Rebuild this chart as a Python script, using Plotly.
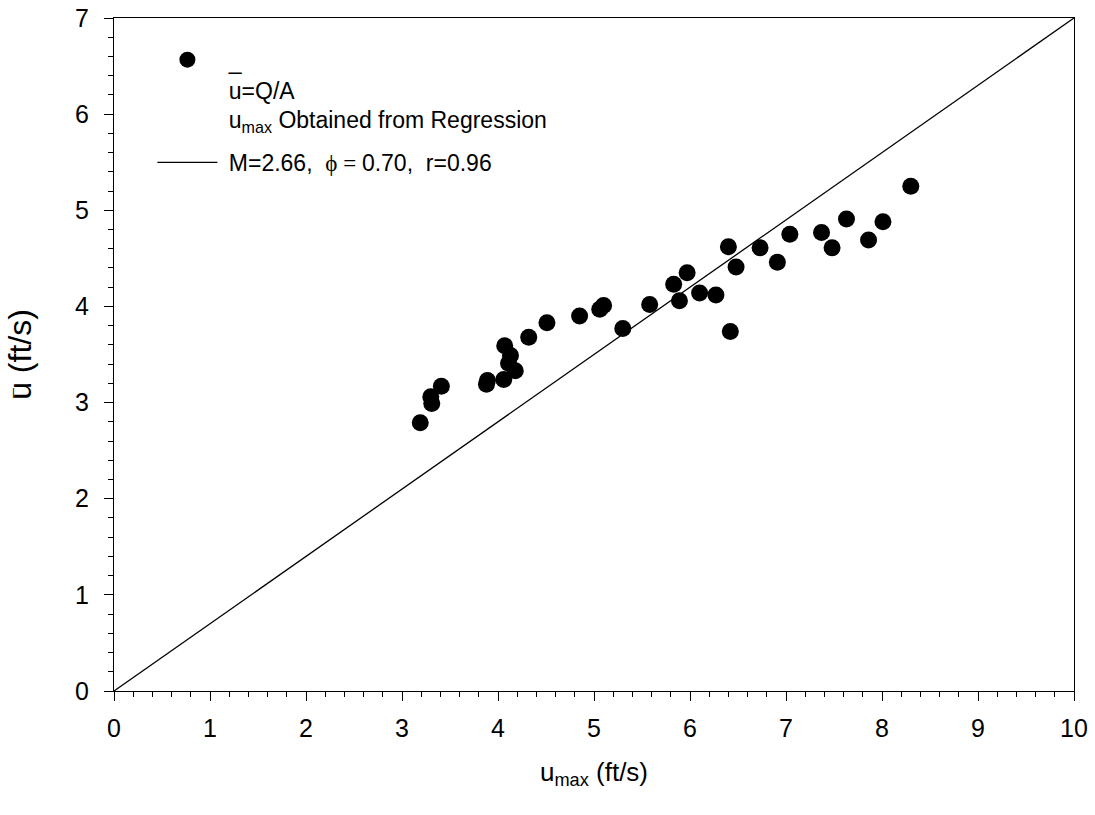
import plotly.graph_objects as go

# data
u_max = [3.19, 3.30, 3.31, 3.41, 3.88, 3.89, 4.06, 4.07, 4.13, 4.11, 4.18, 4.32, 4.51,
         4.85, 5.06, 5.10, 5.30, 5.58, 5.83, 5.89, 5.97, 6.10, 6.27, 6.40, 6.42, 6.48,
         6.73, 6.91, 7.04, 7.37, 7.48, 7.63, 7.86, 8.01, 8.30]
u_bar = [2.79, 3.06, 2.99, 3.17, 3.19, 3.23, 3.24, 3.59, 3.49, 3.41, 3.33, 3.68, 3.83,
         3.90, 3.97, 4.01, 3.77, 4.02, 4.23, 4.06, 4.35, 4.14, 4.12, 4.62, 3.74, 4.41,
         4.61, 4.46, 4.75, 4.77, 4.61, 4.91, 4.69, 4.88, 5.25]

line_x = [0, 10]
line_y = [0, 7]

x_ticks = list(range(0, 11))
y_ticks = list(range(0, 8))

FONT = "Liberation Sans, Arial, sans-serif"
TICK_SIZE = 25
LEG_SIZE = 23
TITLE_SIZE = 26
YTITLE_SIZE = 32

fig = go.Figure()
fig.add_trace(go.Scatter(
    x=u_max, y=u_bar, mode="markers",
    marker=dict(size=17, color="black", line=dict(width=0)),
    name="&nbsp;_<br>&nbsp;u=Q/A<br>&nbsp;u<sub>max</sub> Obtained from Regression",
    legendgroup="a",
))
fig.add_trace(go.Scatter(
    x=line_x, y=line_y, mode="lines",
    line=dict(color="black", width=1.3),
    name="&nbsp;M=2.66,&nbsp; <span style='font-family:Liberation Serif'>ϕ = </span>0.70,&nbsp; r=0.96",
    legendgroup="b",
))

axis_common = dict(
    showline=True, linecolor="black", linewidth=1, mirror=True,
    showgrid=False, zeroline=False, automargin=False,
    ticks="outside", ticklen=9, tickwidth=1, tickcolor="black",
    tickfont=dict(family=FONT, size=TICK_SIZE, color="black"),
    minor=dict(ticks="outside", ticklen=5, tickwidth=1, tickcolor="black", dtick=0.2, showgrid=False),
)

fig.update_xaxes(
    range=[0, 10], tickvals=x_ticks, ticklabelstandoff=6, **axis_common,
    title=dict(text="u<sub>max</sub> (ft/s)", font=dict(family=FONT, size=TITLE_SIZE, color="black"), standoff=21),
)
fig.update_yaxes(
    range=[0, 7], tickvals=y_ticks, ticklabelstandoff=10, **axis_common,
    title=dict(text="u (ft/s)", font=dict(family=FONT, size=YTITLE_SIZE, color="black"), standoff=33),
)

# overbar of the y-axis title symbol (u-bar), drawn as a short vertical stroke
fig.add_annotation(
    text="|", showarrow=False,
    xref="paper", yref="paper", x=-0.1052, y=0.445,
    xanchor="center", yanchor="middle",
    font=dict(family=FONT, size=11, color="black"),
)

fig.update_layout(
    width=1095, height=815,
    margin=dict(l=114, r=21, t=18, b=124),
    paper_bgcolor="white", plot_bgcolor="white",
    font=dict(family=FONT, color="black"),
    showlegend=True,
    legend=dict(
        x=0.04, y=0.970, xanchor="left", yanchor="top",
        bgcolor="rgba(0,0,0,0)", borderwidth=0,
        font=dict(family=FONT, size=LEG_SIZE, color="black"),
        valign="top", traceorder="grouped", tracegroupgap=10,
        itemwidth=60,
    ),
)

fig.write_html("out.html")
